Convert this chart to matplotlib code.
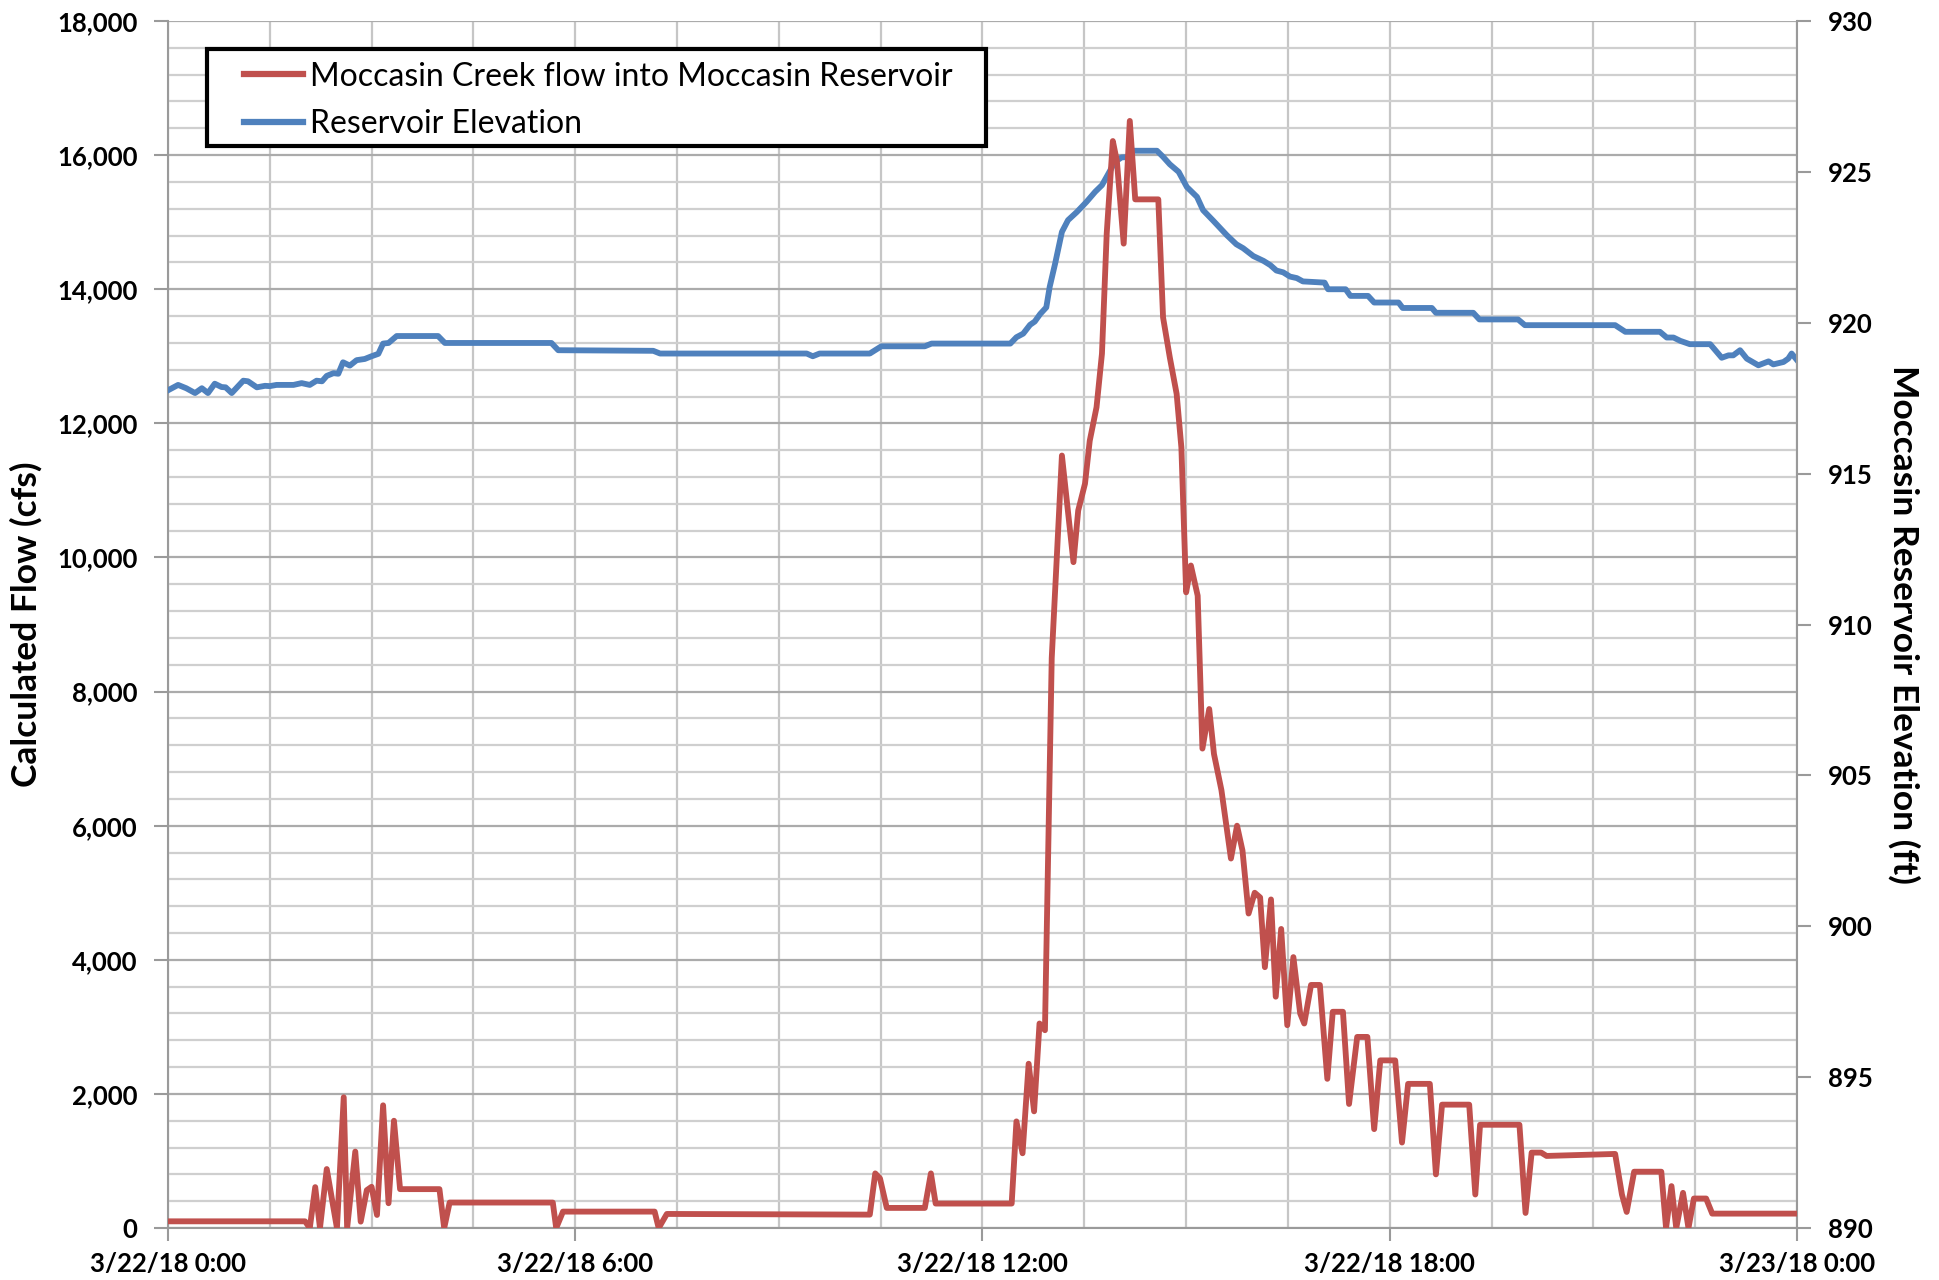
import matplotlib
matplotlib.use("Agg")
import matplotlib.pyplot as plt
from matplotlib.patches import Rectangle
from matplotlib.ticker import MultipleLocator, FuncFormatter

plt.rcParams['font.family'] = ['Lato', 'DejaVu Sans']

# hours after 3/22/18 0:00 and calculated flow (cfs)
flow_hours = [0, 2.02, 2.09, 2.17, 2.24, 2.34, 2.49, 2.59, 2.64, 2.76, 2.84, 2.93, 3.0, 3.08,
              3.17, 3.25, 3.33, 3.42, 4.0, 4.07, 4.15, 5.67, 5.72, 5.82, 7.17, 7.23, 7.35,
              10.34, 10.42, 10.49, 10.59, 11.15, 11.24, 11.31, 12.43, 12.50, 12.59, 12.68,
              12.76, 12.84, 12.92, 13.02, 13.17, 13.34, 13.41, 13.51, 13.58, 13.68, 13.76,
              13.83, 13.92, 13.98, 14.08, 14.17, 14.25, 14.59, 14.66, 14.76, 14.86, 14.93,
              15.0, 15.07, 15.17, 15.24, 15.34, 15.41, 15.52, 15.66, 15.75, 15.83, 15.92,
              16.01, 16.09, 16.16, 16.25, 16.32, 16.40, 16.49, 16.58, 16.68, 16.74, 16.84,
              16.97, 17.08, 17.16, 17.31, 17.40, 17.52, 17.67, 17.77, 17.86, 18.08, 18.18,
              18.27, 18.59, 18.68, 18.77, 19.17, 19.26, 19.33, 19.91, 20.0, 20.09, 20.23,
              20.31, 21.32, 21.42, 21.49, 21.6, 22.0, 22.07, 22.15, 22.22, 22.32, 22.40,
              22.48, 22.66, 22.75, 24.0]
flow_cfs = [100, 100, 0, 610, 0, 880, 0, 1950, 0, 1140, 95, 565, 615, 195,
            1830, 370, 1600, 580, 580, 0, 380, 380, 0, 245, 245, 0, 210,
            200, 815, 740, 300, 300, 815, 365, 365, 1590, 1115, 2450,
            1740, 3050, 2950, 8500, 11520, 9930, 10700, 11100, 11740, 12240, 13040,
            14830, 16210, 15910, 14680, 16510, 15340, 15340, 13580, 12980, 12440, 11640,
            9480, 9880, 9430, 7150, 7740, 7070, 6530, 5510, 6000, 5630, 4690,
            5000, 4930, 3890, 4900, 3450, 4460, 3025, 4040, 3200, 3050, 3625,
            3625, 2225, 3225, 3225, 1850, 2850, 2850, 1475, 2500, 2500, 1275,
            2150, 2150, 800, 1840, 1840, 500, 1540, 1540, 225, 1125, 1125,
            1075, 1105, 500, 240, 840, 840, 0, 625, 0, 525, 0,
            440, 440, 215, 215]

# hours and reservoir elevation (ft)
elev_hours = [0, 0.15, 0.27, 0.40, 0.50, 0.59, 0.69, 0.79, 0.85, 0.94, 1.11, 1.18, 1.31, 1.43,
              1.50, 1.60, 1.85, 1.97, 2.09, 2.19, 2.27, 2.34, 2.44, 2.51, 2.58, 2.68, 2.78,
              2.90, 3.00, 3.10, 3.17, 3.25, 3.37, 3.98, 4.08, 5.65, 5.75, 7.15, 7.25, 9.41,
              9.50, 9.60, 10.34, 10.51, 11.15, 11.25, 12.41, 12.50, 12.60, 12.70, 12.77,
              12.85, 12.94, 12.99, 13.07, 13.17, 13.26, 13.39, 13.53, 13.66, 13.76, 13.85,
              13.95, 14.05, 14.15, 14.22, 14.57, 14.66, 14.76, 14.89, 15.01, 15.16, 15.25,
              15.40, 15.60, 15.74, 15.84, 15.99, 16.14, 16.24, 16.33, 16.43, 16.53, 16.63,
              16.72, 17.04, 17.09, 17.35, 17.42, 17.68, 17.77, 18.13, 18.19, 18.62, 18.68,
              19.23, 19.32, 19.89, 19.99, 21.32, 21.47, 21.98, 22.08, 22.18, 22.28, 22.42,
              22.72, 22.89, 22.99, 23.06, 23.16, 23.26, 23.43, 23.58, 23.65, 23.80, 23.87,
              23.92, 24.0]
elev_ft = [917.76, 917.94, 917.83, 917.67, 917.83, 917.67, 917.98, 917.87, 917.86, 917.67,
           918.08, 918.06, 917.86, 917.91, 917.90, 917.94, 917.94, 918.00, 917.94, 918.08,
           918.06, 918.24, 918.33, 918.31, 918.69, 918.58, 918.76, 918.80, 918.89, 918.97,
           919.31, 919.33, 919.56, 919.56, 919.33, 919.33, 919.09, 919.07, 918.98, 918.98,
           918.89, 918.98, 918.98, 919.22, 919.22, 919.31, 919.31, 919.52, 919.64, 919.93,
           920.04, 920.29, 920.51, 921.19, 921.96, 923.01, 923.40, 923.67, 924.00, 924.34,
           924.56, 924.92, 925.33, 925.48, 925.49, 925.70, 925.70, 925.50, 925.25, 925.00,
           924.50, 924.17, 923.73, 923.38, 922.90, 922.60, 922.47, 922.21, 922.05, 921.91,
           921.73, 921.67, 921.53, 921.48, 921.37, 921.33, 921.11, 921.11, 920.89, 920.89,
           920.67, 920.67, 920.49, 920.49, 920.33, 920.33, 920.11, 920.11, 919.92, 919.92,
           919.70, 919.70, 919.51, 919.51, 919.40, 919.29, 919.29, 918.84, 918.92, 918.92,
           919.09, 918.81, 918.59, 918.72, 918.62, 918.70, 918.81, 918.98, 918.76]

tick_hours = [0, 6, 12, 18, 24]
tick_labels = ['3/22/18 0:00', '3/22/18 6:00', '3/22/18 12:00', '3/22/18 18:00', '3/23/18 0:00']

red = '#C0504D'
blue = '#4F81BD'

fig = plt.figure(figsize=(19.39, 12.8), dpi=100)
ax = fig.add_axes([0.0866, 0.0406, 0.8402, 0.943])
ax2 = ax.twinx()
ax3 = ax.twinx()

# grid and left axis
ax.set_xlim(0, 24)
ax.set_ylim(0, 18000)
ax.yaxis.set_major_locator(MultipleLocator(2000))
ax.yaxis.set_minor_locator(MultipleLocator(400))
ax.xaxis.set_minor_locator(MultipleLocator(1.5))
ax.set_xticks(tick_hours)
ax.set_xticklabels(tick_labels)
ax.yaxis.set_major_formatter(FuncFormatter(lambda v, p: '{:,.0f}'.format(v)))
ax.grid(which='major', axis='y', color='#ababab', lw=1.6)
ax.grid(which='minor', axis='y', color='#cfcfcf', lw=1.6)
ax.grid(which='both', axis='x', color='#c6c6c6', lw=1.6)
ax.set_axisbelow(True)
ax.tick_params(axis='both', which='minor', length=0)
ax.tick_params(axis='y', which='major', length=10, width=1.5, color='#9a9a9a',
               labelsize=18.5, pad=12)
ax.tick_params(axis='x', which='major', length=9, width=1.5, color='#9a9a9a',
               labelsize=18.5, pad=8)
for lab in ax.get_xticklabels() + ax.get_yticklabels():
    lab.set_fontweight('bold')
for s in ['left', 'bottom']:
    ax.spines[s].set_color('#9a9a9a')
    ax.spines[s].set_linewidth(1.5)
ax.spines['top'].set_visible(False)
ax.spines['right'].set_visible(False)
ax.set_ylabel('Calculated Flow (cfs)', fontsize=25.5, fontweight='bold', labelpad=10)

# right axis with elevation
ax2.plot(elev_hours, elev_ft, color=blue, lw=4.2, solid_joinstyle='round')
ax2.set_ylim(890, 930)
ax2.yaxis.set_major_locator(MultipleLocator(5))
ax2.tick_params(axis='y', length=10, width=1.5, color='#9a9a9a', labelsize=18.5, pad=12)
for lab in ax2.get_yticklabels():
    lab.set_fontweight('bold')
ax2.spines['right'].set_color('#9a9a9a')
ax2.spines['right'].set_linewidth(1.5)
for s in ['left', 'top', 'bottom']:
    ax2.spines[s].set_visible(False)
ax2.set_ylabel('Moccasin Reservoir Elevation (ft)', fontsize=25.5, fontweight='bold',
               rotation=270, labelpad=34)

# flow line on top
ax3.plot(flow_hours, flow_cfs, color=red, lw=4.2, solid_joinstyle='round')
ax3.set_ylim(0, 18000)
ax3.axis('off')

# legend box drawn separately so the handles sit inset like the original
ax3.add_patch(Rectangle((0.0238, 0.8964), 0.4782, 0.08, transform=ax3.transAxes,
                        facecolor='white', edgecolor='black', lw=3, zorder=4,
                        clip_on=False))
h1, = ax3.plot([], [], color=red, lw=4.5, label='Moccasin Creek flow into Moccasin Reservoir')
h2, = ax3.plot([], [], color=blue, lw=4.5, label='Reservoir Elevation')
leg = ax3.legend(handles=[h1, h2], loc='upper left', bbox_to_anchor=(0.0466, 0.9663),
                 borderaxespad=0, borderpad=0, fontsize=23, handlelength=1.86,
                 handletextpad=0.2, frameon=False, labelspacing=0.55)
leg.set_zorder(5)

fig.savefig('out.png', dpi=100)
